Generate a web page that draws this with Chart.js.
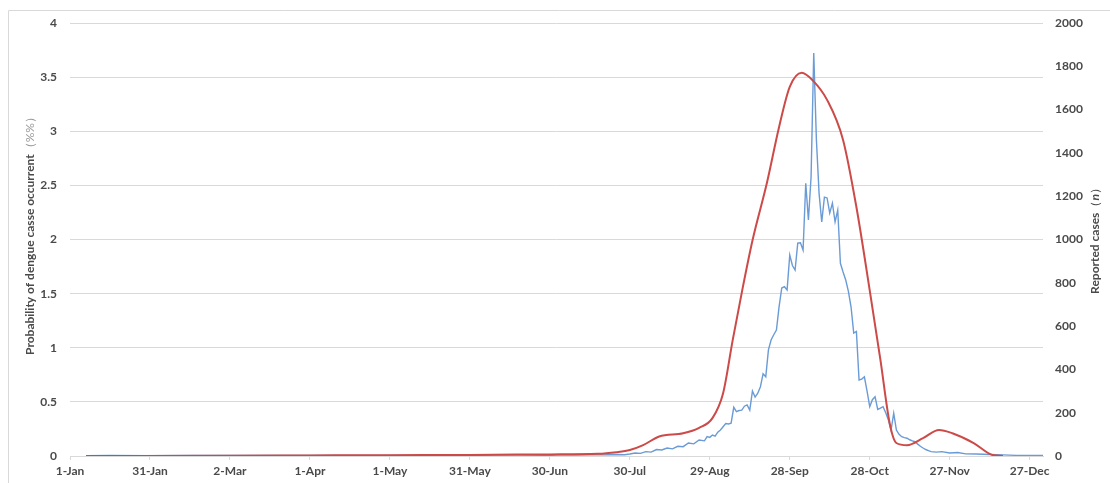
<!DOCTYPE html>
<html>
<head>
<meta charset="utf-8">
<script src="https://cdn.jsdelivr.net/npm/chart.js@4.4.0/dist/chart.umd.min.js"></script>
<style>
  html, body { margin: 0; padding: 0; background: #ffffff; }
  #wrap { position: relative; width: 1110px; height: 483px; }
  canvas { display: block; }
</style>
</head>
<body>
<div id="wrap"><canvas id="c" width="1110" height="483"></canvas></div>
<script>
// ---- data (day of year, 0 = 1-Jan) ----
const tickDays = [0, 30, 60, 90, 120, 150, 180, 210, 240, 270, 300, 330, 360];
const tickLabels = ["1-Jan", "31-Jan", "2-Mar", "1-Apr", "1-May", "31-May", "30-Jun", "30-Jul", "29-Aug", "28-Sep", "28-Oct", "27-Nov", "27-Dec"];
const leftTicks = [0, 0.5, 1, 1.5, 2, 2.5, 3, 3.5, 4];
const rightTicks = [0, 200, 400, 600, 800, 1000, 1200, 1400, 1600, 1800, 2000];

// Probability of dengue case occurrence (%), smooth curve
const probDays = [6, 60, 90, 120, 150, 180, 198, 205, 210, 215, 221, 230, 236, 241, 245, 248.6, 252.4, 256.1, 261.4, 266, 270, 274.5, 278.6, 284, 290, 295, 300, 304, 307.5, 310, 314, 320, 326, 331, 339, 346, 350];
const probValues = [0, 0.002, 0.005, 0.008, 0.01, 0.015, 0.02, 0.035, 0.055, 0.1, 0.18, 0.21, 0.26, 0.35, 0.58, 1.07, 1.56, 2.0, 2.52, 3.04, 3.41, 3.54, 3.47, 3.29, 2.92, 2.30, 1.53, 0.89, 0.3, 0.12, 0.10, 0.165, 0.24, 0.21, 0.12, 0.01, 0];

// Reported cases (n), daily
const caseDays = [6, 15, 30, 45, 60, 75, 90, 105, 120, 135, 150, 160, 170, 180, 185, 190, 195, 200, 204, 208, 210, 212, 214, 216, 218, 220, 222, 224, 226, 228, 230, 232, 234, 236, 238, 239, 240, 241, 242, 243, 244, 245, 246, 247, 248, 249, 250, 251, 252, 253, 254, 255, 256, 257, 258, 259, 260, 261, 262, 263, 264, 265, 266, 267, 268, 269, 270, 271, 272, 273, 274, 275, 276, 277, 278, 279, 280, 281, 282, 283, 284, 285, 286, 287, 288, 289, 290, 291, 292, 293, 294, 295, 296, 297, 298, 299, 300, 301, 302, 303, 304, 305, 306, 307, 308, 309, 310, 311, 312, 313, 314, 315, 316, 317, 318, 319, 320, 321, 322, 323, 325, 327, 330, 333, 336, 340, 345, 350, 355, 360, 365];
const caseValues = [1, 2, 1, 2, 2, 3, 2, 3, 2, 3, 3, 4, 4, 3, 5, 4, 6, 5, 7, 6, 9, 14, 12, 20, 18, 30, 28, 37, 33, 45, 43, 60, 56, 74, 70, 90, 86, 97, 92, 110, 120, 135, 150, 148, 152, 225, 205, 210, 212, 230, 236, 212, 300, 272, 290, 320, 380, 366, 490, 536, 560, 582, 690, 776, 782, 767, 928, 880, 859, 983, 985, 951, 1260, 1090, 1290, 1861, 1460, 1213, 1081, 1196, 1192, 1122, 1168, 1081, 1136, 890, 850, 813, 760, 688, 568, 575, 351, 355, 366, 300, 228, 260, 274, 215, 221, 228, 200, 166, 120, 198, 120, 100, 89, 85, 82, 75, 70, 66, 55, 45, 37, 30, 25, 20, 18, 20, 14, 16, 10, 9, 7, 5, 3, 3, 2];

const leftTitle = "Probability of dengue casse occurrent";
const leftTitleUnit = "（%%）";
const rightTitle = "Reported cases";
const rightTitleUnitOpen = "（";
const rightTitleUnitVar = "n";
const rightTitleUnitClose = "）";

const FONT = "Lato, 'Open Sans', sans-serif";
const TXT = "#4a4a4a";
const GRID = "#d9d9d9";

const chromePlugin = {
  id: 'chrome',
  beforeDraw(chart) {
    const ctx = chart.ctx;
    ctx.save();
    ctx.fillStyle = '#ffffff';
    ctx.fillRect(0, 0, chart.width, chart.height);
    ctx.strokeStyle = GRID;
    ctx.lineWidth = 1;
    ctx.beginPath();
    ctx.moveTo(8.5, chart.height);
    ctx.lineTo(8.5, 10.5);
    ctx.lineTo(chart.width, 10.5);
    ctx.stroke();
    ctx.restore();
  },
  afterDraw(chart) {
    const ctx = chart.ctx;
    // left title
    ctx.save();
    ctx.translate(30, 233);
    ctx.rotate(-Math.PI / 2);
    ctx.textBaseline = 'middle';
    ctx.textAlign = 'left';
    const f1 = "bold 12px " + FONT;
    const f2 = "12px " + FONT;
    ctx.font = f1;
    const w1 = ctx.measureText(leftTitle).width;
    ctx.font = f2;
    const w2 = ctx.measureText(leftTitleUnit).width;
    let x = -(w1 + w2) / 2;
    ctx.font = f1; ctx.fillStyle = TXT;
    ctx.fillText(leftTitle, x, 0);
    ctx.font = f2; ctx.fillStyle = '#9a9a9a';
    ctx.fillText(leftTitleUnit, x + w1, 0);
    ctx.restore();

    // right title
    ctx.save();
    ctx.translate(1095, 238);
    ctx.rotate(-Math.PI / 2);
    ctx.textBaseline = 'middle';
    ctx.textAlign = 'left';
    const fi = "italic bold 12px " + FONT;
    ctx.font = f1;
    const a = ctx.measureText(rightTitle).width;
    ctx.font = f2;
    const b = ctx.measureText(rightTitleUnitOpen).width;
    ctx.font = fi;
    const c = ctx.measureText(rightTitleUnitVar).width;
    ctx.font = f2;
    const d = ctx.measureText(rightTitleUnitClose).width;
    let rx = -(a + b + c + d) / 2;
    ctx.fillStyle = TXT;
    ctx.font = f1; ctx.fillText(rightTitle, rx, 0); rx += a;
    ctx.font = f2; ctx.fillText(rightTitleUnitOpen, rx, 0); rx += b;
    ctx.font = fi; ctx.fillText(rightTitleUnitVar, rx, 0); rx += c;
    ctx.font = f2; ctx.fillText(rightTitleUnitClose, rx, 0);
    ctx.restore();
  }
};

new Chart(document.getElementById('c'), {
  type: 'line',
  data: {
    datasets: [
      {
        label: 'Reported cases',
        data: caseDays.map((d, i) => ({ x: d, y: caseValues[i] })),
        yAxisID: 'yR',
        borderColor: '#6a9bd6',
        borderWidth: 1.4,
        pointRadius: 0,
        tension: 0,
        order: 2
      },
      {
        label: 'Probability',
        data: probDays.map((d, i) => ({ x: d, y: probValues[i] })),
        yAxisID: 'yL',
        borderColor: '#cc4a48',
        borderWidth: 2,
        pointRadius: 0,
        cubicInterpolationMode: 'monotone',
        order: 1
      }
    ]
  },
  options: {
    responsive: false,
    animation: false,
    devicePixelRatio: 1,
    layout: { padding: { top: 23, left: 0, right: 0, bottom: 0 } },
    plugins: { legend: { display: false }, tooltip: { enabled: false } },
    scales: {
      x: {
        type: 'linear',
        min: 0,
        max: 365,
        afterBuildTicks(scale) { scale.ticks = tickDays.map(v => ({ value: v })); },
        afterFit(scale) { scale.height = 27; },
        ticks: {
          autoSkip: false,
          maxRotation: 0,
          padding: 4,
          color: TXT,
          font: { family: FONT, size: 12, weight: 'bold' },
          callback(value) { const i = tickDays.indexOf(value); return i >= 0 ? tickLabels[i] : ''; }
        },
        grid: { drawOnChartArea: false, drawTicks: true, tickLength: 4, color: GRID },
        border: { display: true, color: GRID }
      },
      yL: {
        position: 'left',
        min: 0,
        max: 4,
        afterBuildTicks(scale) { scale.ticks = leftTicks.map(v => ({ value: v })); },
        afterFit(scale) { scale.width = 70; },
        ticks: {
          padding: 13,
          color: TXT,
          font: { family: FONT, size: 12, weight: 'bold' },
          callback(v) { return String(v); }
        },
        grid: { color: GRID, drawTicks: false, lineWidth: 1 },
        border: { display: false }
      },
      yR: {
        position: 'right',
        min: 0,
        max: 2000,
        afterBuildTicks(scale) { scale.ticks = rightTicks.map(v => ({ value: v })); },
        afterFit(scale) { scale.width = 67; },
        ticks: {
          padding: 12,
          color: TXT,
          font: { family: FONT, size: 12, weight: 'bold' },
          callback(v) { return String(v); }
        },
        grid: { drawOnChartArea: false, drawTicks: false },
        border: { display: false }
      }
    }
  },
  plugins: [chromePlugin]
});
</script>
</body>
</html>
